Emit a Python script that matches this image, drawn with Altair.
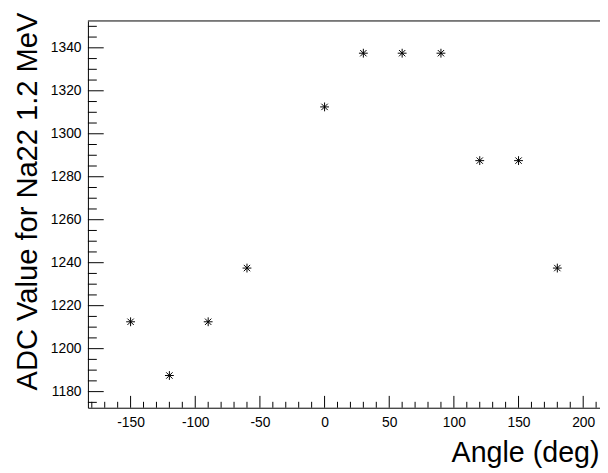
import pandas as pd
import altair as alt

# Measured ADC peak position (Na22 1.2 MeV line) vs detector angle
angles = [-150, -120, -90, -60, 0, 30, 60, 90, 120, 150, 180]
adc_values = [1212.5, 1187.5, 1212.5, 1237.5, 1312.5, 1337.5, 1337.5, 1337.5, 1287.5, 1287.5, 1237.5]

# ROOT-style axis ticks (drawn inside the frame)
x_major = [-150, -100, -50, 0, 50, 100, 150, 200]
x_minor = [v for v in range(-180, 211, 10) if v % 50 != 0]
y_major = [1180, 1200, 1220, 1240, 1260, 1280, 1300, 1320, 1340]
y_minor = [v for v in range(1175, 1351, 5) if v % 20 != 0]

W, H = 519, 392
FONT = 'Liberation Sans'

x_scale = alt.Scale(domain=[-183, 213], nice=False, zero=False)
y_scale = alt.Scale(domain=[1172.5, 1352.5], nice=False, zero=False)

x_axis = alt.Axis(
    values=x_major, grid=False, ticks=False, domainColor='black', domainWidth=1,
    labelFont=FONT, labelFontSize=14, labelColor='black', labelPadding=8,
    labelExpr="'' + datum.value",
    title='Angle (deg)', titleFont=FONT, titleFontSize=29, titleFontWeight='normal',
    titleColor='black', titleX=518, titleY=55, titleAlign='right',
    titleBaseline='alphabetic', titleAngle=0)
y_axis = alt.Axis(
    values=y_major, grid=False, ticks=False, domainColor='black', domainWidth=1,
    labelFont=FONT, labelFontSize=14, labelColor='black', labelPadding=7,
    labelExpr="'' + datum.value",
    title='ADC Value for Na22 1.2 MeV', titleFont=FONT, titleFontSize=29.5,
    titleFontWeight='normal', titleColor='black', titleX=-52, titleY=-9,
    titleAlign='right', titleBaseline='alphabetic', titleAngle=270)

data = pd.DataFrame({'angle': angles, 'adc': adc_values})

asterisk = 'M-1,0L1,0M0,-1L0,1M-0.72,-0.72L0.72,0.72M-0.72,0.72L0.72,-0.72'

points = alt.Chart(data).mark_point(
    shape=asterisk, filled=False, stroke='black', strokeWidth=1, size=80, opacity=1
).encode(
    x=alt.X('angle:Q', scale=x_scale, axis=x_axis),
    y=alt.Y('adc:Q', scale=y_scale, axis=y_axis)
)

xmaj = alt.Chart(pd.DataFrame({'angle': x_major})).mark_rule(color='black', strokeWidth=1).encode(
    x=alt.X('angle:Q', scale=x_scale, axis=x_axis), y=alt.value(H), y2=alt.value(H - 12))
xmin = alt.Chart(pd.DataFrame({'angle': x_minor})).mark_rule(color='black', strokeWidth=1).encode(
    x=alt.X('angle:Q', scale=x_scale, axis=x_axis), y=alt.value(H), y2=alt.value(H - 6))


# y ticks: full-width rules (drawn from the right edge to the left one),
# dashed so that only the last `length` pixels next to the y axis show
def y_ticks(values, length):
    return alt.Chart(pd.DataFrame({'adc': values})).mark_rule(
        color='black', strokeWidth=1, strokeDash=[length, W - length], strokeDashOffset=length
    ).encode(y=alt.Y('adc:Q', scale=y_scale, axis=y_axis))


ymaj = y_ticks(y_major, 16)
ymin = y_ticks(y_minor, 9)

# top edge of the frame
top = alt.Chart(pd.DataFrame({'adc': [1352.5]})).mark_rule(color='black', strokeWidth=1).encode(
    y=alt.Y('adc:Q', scale=y_scale, axis=y_axis))

chart = alt.layer(points, xmin, xmaj, ymin, ymaj, top).properties(
    width=W, height=H,
    autosize=alt.AutoSizeParams(type='none'),
    padding={'left': 81, 'top': 10, 'right': 0, 'bottom': 62},
    background='white'
).configure_view(stroke=None)

chart.save("out.html", embed_options={"renderer": "svg", "actions": False})
